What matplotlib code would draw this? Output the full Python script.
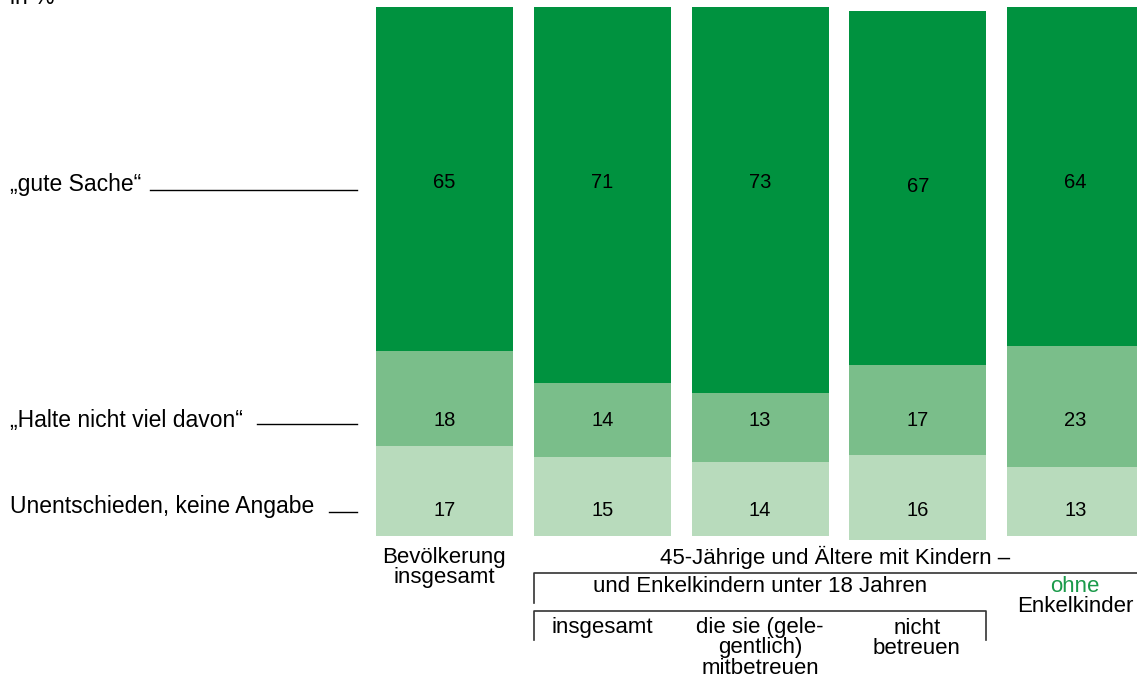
import matplotlib.pyplot as plt
from matplotlib.lines import Line2D

W, H = 1137, 681

# Data
gute_sache = [65, 71, 73, 67, 64]
halte_nicht = [18, 14, 13, 17, 23]
unentschieden = [17, 15, 14, 16, 13]
series_labels = ['„gute Sache“', '„Halte nicht viel davon“', 'Unentschieden, keine Angabe']

c_dark = '#00923f'
c_mid = '#7abe8a'
c_light = '#b8dbbc'

plt.rcParams['font.family'] = ['Liberation Sans', 'DejaVu Sans']

fig = plt.figure(figsize=(W / 100, H / 100), dpi=100)


def fx(p):  # pixel x -> figure fraction
    return p / W


def fy(p):  # pixel y (from top) -> figure fraction
    return 1 - p / H


# axes in bar units: centre of bar i at pixel 444.5 + 157.75*i, 0..100 from pixel 536 to 7
ppu_x = 157.75
ppu_y = (536 - 7) / 100
ax = fig.add_axes([0, 0, 1, 1])
ax.set_xlim(-444.5 / ppu_x, (W - 444.5) / ppu_x)
ax.set_ylim(-(H - 536) / ppu_y, 100 + 7 / ppu_y)
ax.axis('off')

x = list(range(len(gute_sache)))
bw = 137 / ppu_x
shift = [0, 0, 0, -0.7, 0]  # 4th bar sits a little lower in the original

b1 = [s for s in shift]
b2 = [s + u for s, u in zip(shift, unentschieden)]
b3 = [s + u + h for s, u, h in zip(shift, unentschieden, halte_nicht)]
ax.bar(x, unentschieden, bottom=b1, width=bw, color=c_light, linewidth=0)
ax.bar(x, halte_nicht, bottom=b2, width=bw, color=c_mid, linewidth=0)
ax.bar(x, gute_sache, bottom=b3, width=bw, color=c_dark, linewidth=0)

# value labels sit on fixed rows
row_top = (536 - 183) / ppu_y
row_mid = (536 - 421) / ppu_y
row_bot = (536 - 511) / ppu_y
nfs = 14.5
for i in x:
    ax.text(i, row_top + shift[i], str(gute_sache[i]), ha='center', va='center', fontsize=nfs)
    ax.text(i, row_mid, str(halte_nicht[i]), ha='center', va='center', fontsize=nfs)
    ax.text(i, row_bot, str(unentschieden[i]), ha='center', va='center', fontsize=nfs)

# left side labels with leader lines
lfs = 16.5
fig.text(fx(10), fy(-3), 'in %', ha='left', va='center', fontsize=lfs)
left_rows = [(185, 150, 190), (421, 257, 424), (506, 329, 512)]
for lab, (ty, lx, ly) in zip(series_labels, left_rows):
    fig.text(fx(10), fy(ty), lab, ha='left', va='center', fontsize=lfs)
    fig.add_artist(Line2D([fx(lx), fx(357)], [fy(ly), fy(ly)], color='black', lw=1))

# category labels below (one text per line)
fs = 16
cat_lines = [
    (444, 557, 'Bevölkerung', 'black'),
    (444, 578, 'insgesamt', 'black'),
    (835, 557, '45-Jährige und Ältere mit Kindern –', 'black'),
    (760, 586, 'und Enkelkindern unter 18 Jahren', 'black'),
    (1075, 587, 'ohne', '#1a9a4a'),
    (1075, 607, 'Enkelkinder', 'black'),
    (602, 628, 'insgesamt', 'black'),
    (760, 628, 'die sie (gele-', 'black'),
    (760, 648, 'gentlich)', 'black'),
    (760, 668, 'mitbetreuen', 'black'),
    (917, 628, 'nicht', 'black'),
    (917, 649, 'betreuen', 'black'),
]
for px_, py_, t, col in cat_lines:
    fig.text(fx(px_), fy(py_), t, ha='center', va='center', fontsize=fs, color=col)

# brackets
lk = dict(color='#333333', lw=1.2)
fig.add_artist(Line2D([fx(534), fx(534), fx(1137)], [fy(603), fy(573), fy(573)], **lk))
fig.add_artist(Line2D([fx(534), fx(534), fx(986), fx(986)],
                      [fy(640), fy(611), fy(611), fy(640)], **lk))

fig.savefig('out.png', dpi=100)
